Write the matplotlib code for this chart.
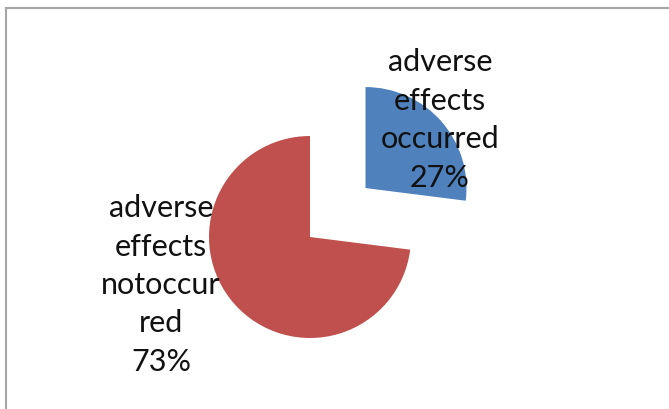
import matplotlib.pyplot as plt
from matplotlib.patches import Rectangle

# data
labels = ['adverse\neffects\noccurred', 'adverse\neffects\nnotoccur\nred']
values = [27, 73]
colors = ['#4F81BD', '#C0504D']
explode = [74, 0]  # pie offsets in data units (pixels here)

W, H = 669, 409
fig = plt.figure(figsize=(W / 100, H / 100), dpi=100)
ax = fig.add_axes([0, 0, 1, 1])

# chart border (only top and left edges visible)
ax.add_patch(Rectangle((6, -20), W + 40, H - 8 + 20, fill=False,
                       edgecolor='#a6a6a6', linewidth=1.5))

wedges, _ = ax.pie(values, colors=colors, explode=explode, startangle=90,
                   counterclock=False, radius=101, center=(310, H - 237),
                   frame=True, wedgeprops={'linewidth': 0})
ax.set_xlim(0, W)
ax.set_ylim(0, H)
ax.axis('off')

# data labels
label_pos = [(440, H - 120), (161, H - 285)]
for lab, v, (x, y) in zip(labels, values, label_pos):
    ax.text(x, y, f'{lab}\n{v}%', ha='center', va='center', fontsize=22,
            family=['Lato', 'DejaVu Sans'], color='#111111', linespacing=1.45)

fig.savefig('out.png', dpi=100)
